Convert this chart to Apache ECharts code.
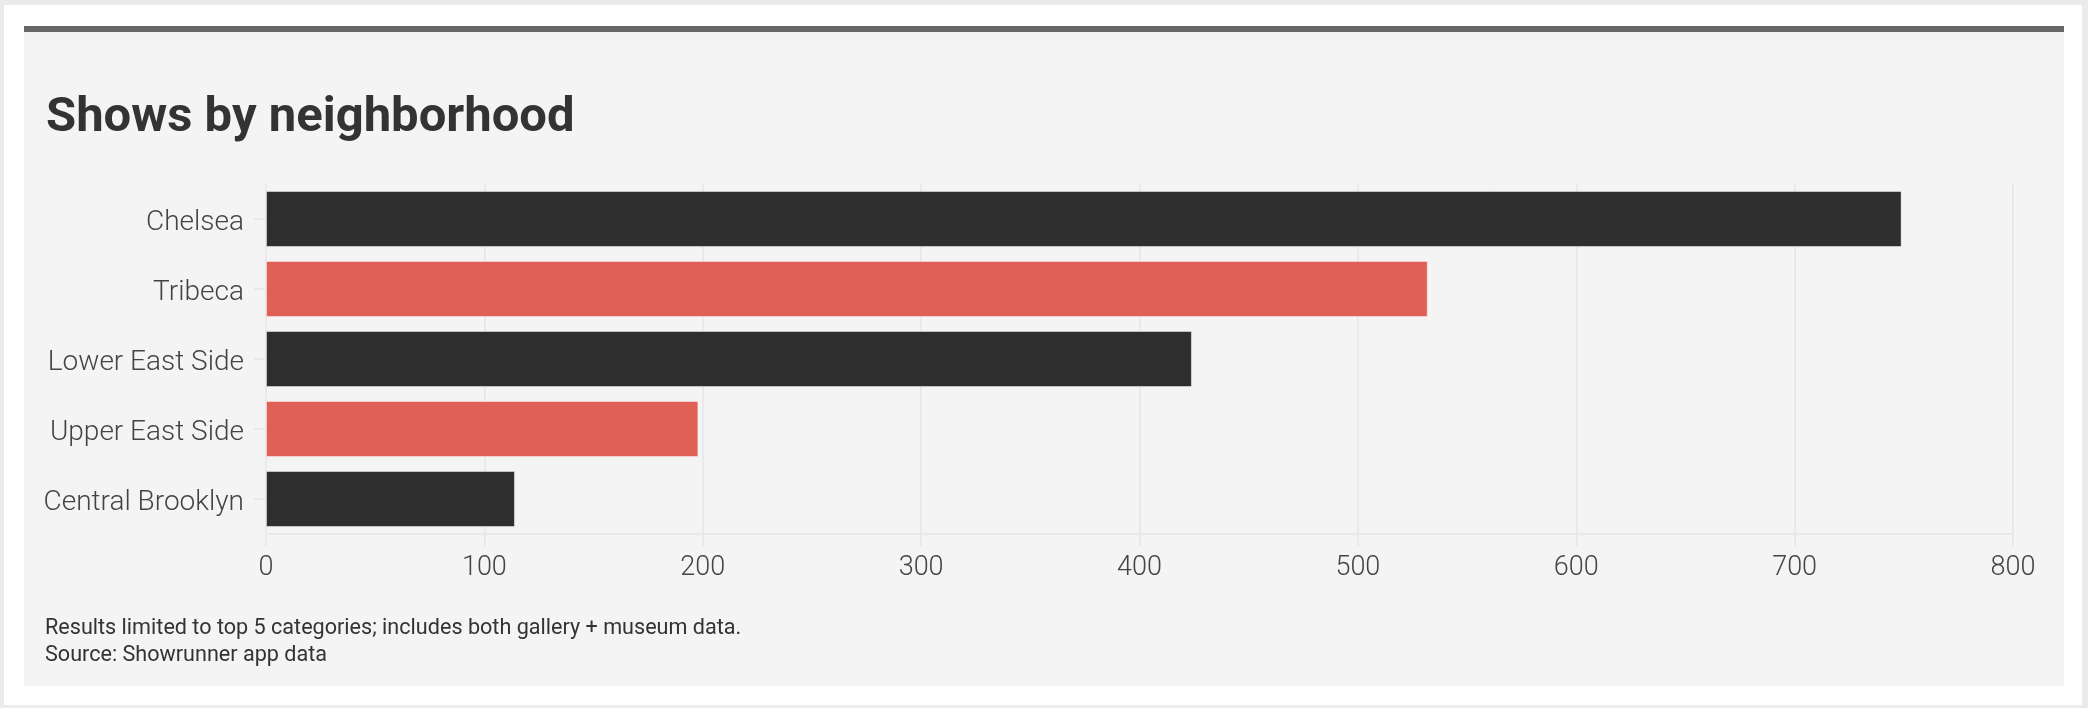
<!DOCTYPE html>
<html>
<head>
<meta charset="utf-8">
<script src="https://cdn.jsdelivr.net/npm/echarts@6/dist/echarts.min.js"></script>
<style>
  html, body { margin: 0; padding: 0; }
  body { width: 2088px; height: 708px; background: #ebebeb; position: relative; overflow: hidden; }
  #card { position: absolute; left: 4px; top: 5px; width: 2078px; height: 700px; background: #ffffff; }
  #panel { position: absolute; left: 24px; top: 26px; width: 2040px; height: 660px; background: #f4f4f4; border-top: 6px solid #666666; box-sizing: border-box; }
  #chart { position: absolute; left: 0; top: 0; width: 2088px; height: 708px; }
</style>
</head>
<body>
<div id="card"></div>
<div id="panel"></div>
<div id="chart"></div>
<script>
// datos
const barrios = ["Chelsea", "Tribeca", "Lower East Side", "Upper East Side", "Central Brooklyn"];
const shows = [749, 532, 424, 198, 114];
const colores = ["#2e2e2e", "#e06055", "#2e2e2e", "#e06055", "#2e2e2e"];
const ticksX = [0, 100, 200, 300, 400, 500, 600, 700, 800];

const titulo = "Shows by neighborhood";
const nota = "Results limited to top 5 categories; includes both gallery + museum data.";
const fuente = "Source: Showrunner app data";

const chart = echarts.init(document.getElementById("chart"));

chart.setOption({
  backgroundColor: "transparent",
  animation: false,
  title: {
    text: titulo,
    left: 41,
    top: 89,
    textStyle: {
      fontFamily: "Roboto",
      fontWeight: 700,
      fontSize: 49,
      color: "#333333",
    },
  },
  grid: { left: 266, right: 75, top: 184, bottom: 174 },
  xAxis: {
    type: "value",
    min: ticksX[0],
    max: ticksX[ticksX.length - 1],
    interval: 100,
    axisLine: { show: true, lineStyle: { color: "#e9e9e9", width: 2 } },
    axisTick: { show: true, length: 12, lineStyle: { color: "#e9e9e9", width: 2 } },
    splitLine: { show: true, lineStyle: { color: "#e9e9e9", width: 2 } },
    axisLabel: {
      margin: 21,
      fontFamily: "Roboto",
      fontWeight: 300,
      fontSize: 27,
      color: "#444444",
    },
  },
  yAxis: {
    type: "category",
    data: barrios,
    inverse: true,
    axisLine: { show: false },
    axisTick: { show: true, alignWithLabel: true, length: 12, lineStyle: { color: "#e9e9e9", width: 2 } },
    splitLine: { show: false },
    axisLabel: {
      margin: 22,
      formatter: (v) => `{b|${v}}`,
      rich: {
        b: {
          padding: [8, 0, 0, 0],
          fontFamily: "Roboto",
          fontWeight: 300,
          fontSize: 28,
          color: "#444444",
        },
      },
    },
  },
  series: [
    {
      type: "bar",
      data: shows.map((v, i) => ({ value: v, itemStyle: { color: colores[i] } })),
      barCategoryGap: "20%",
      itemStyle: { borderColor: "rgba(255,255,255,0.45)", borderWidth: 1 },
    },
  ],
  graphic: [
    {
      type: "text",
      left: 45,
      top: 615,
      style: {
        text: nota + "\n" + fuente,
        fontFamily: "Roboto",
        fontSize: 21.6,
        lineHeight: 27,
        fill: "#333333",
      },
    },
  ],
});
</script>
</body>
</html>
